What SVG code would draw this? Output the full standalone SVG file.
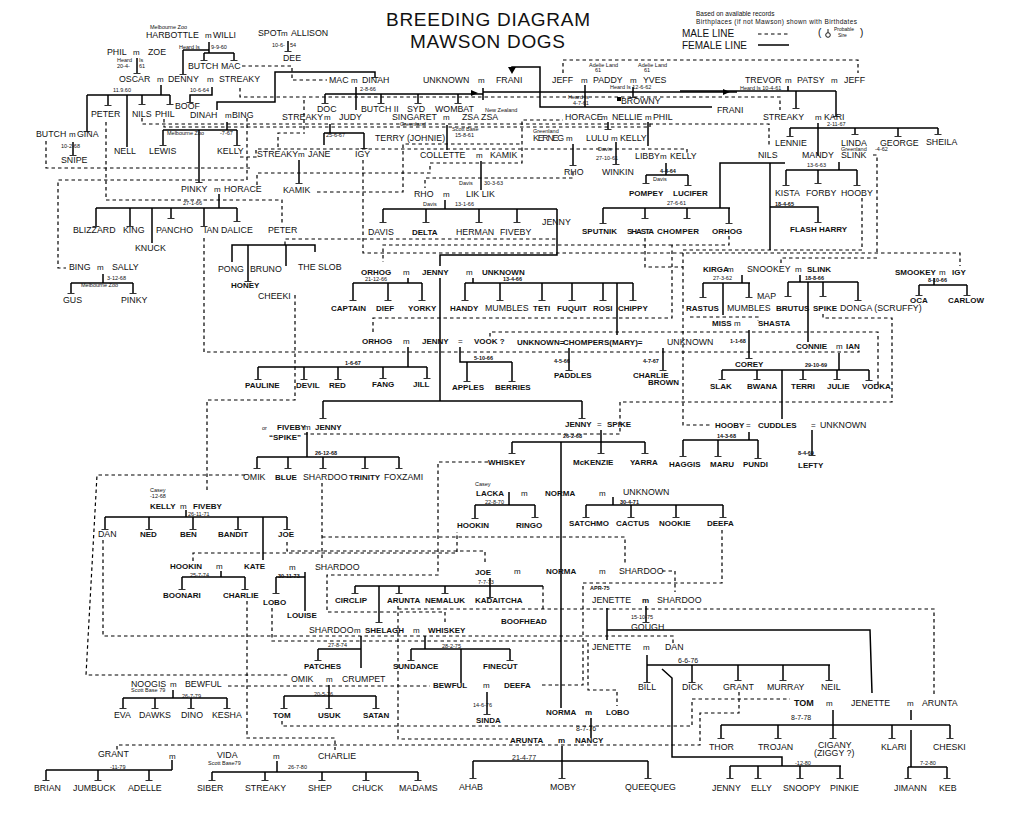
<svg xmlns="http://www.w3.org/2000/svg" width="1030" height="829" viewBox="0 0 1030 829">
<style>
text{font-family:"Liberation Sans",Arial,sans-serif;font-size:8.8px;fill:#111}
.h{font-weight:bold;font-size:8px}
.s{font-size:5.5px}
.hs{font-weight:bold;font-size:5.5px}
.m{font-size:8px}
.d7{font-size:7px}
.ti{font-size:19px}
.lg{font-size:10px}
.f{fill:none;stroke:#000;stroke-width:1.5}
.t{marker-end:url(#tee)}
.d{fill:none;stroke:#000;stroke-width:1.2;stroke-dasharray:3.5 3}
</style>
<defs>
<marker id="tee" markerWidth="8" markerHeight="8" refX="0" refY="4" orient="auto" markerUnits="userSpaceOnUse"><path d="M0,0.5V7.5" stroke="#000" stroke-width="1.6"/></marker>
</defs>
<rect width="1030" height="829" fill="#fff"/>

<g id="header">
<text class="ti" x="386" y="26" textLength="204">BREEDING DIAGRAM</text>
<text class="ti" x="410" y="47.5" textLength="155">MAWSON DOGS</text>
<text x="696" y="16" style="font-size:6.5px">Based on available records</text>
<text x="696" y="24" style="font-size:6.5px" textLength="161">Birthplaces (if not Mawson) shown with Birthdates</text>
<text class="lg" x="682" y="37">MALE LINE</text>
<text class="lg" x="682" y="49">FEMALE LINE</text>
<path class="d" d="M758,34H790"/>
<path class="f" d="M758,45H789"/>
<text class="lg" x="818" y="36">(</text>
<circle cx="828" cy="35" r="2.3" fill="none" stroke="#000" stroke-width="0.9"/>
<path d="M828,32.5V29" stroke="#000" stroke-width="0.9"/>
<text x="834" y="31" style="font-size:5px">Probable</text>
<text x="838" y="37" style="font-size:5px">Sire</text>
<text class="lg" x="860" y="36">)</text>
</g>

<g id="connectors">
<path class="f" d="M209,42V53M183,50H209M204,53H234"/>
<path class="f t" d="M183,50V74"/><path class="f t" d="M204,53V60"/><path class="f t" d="M234,53V60"/>
<path class="f t" d="M137,58V73"/>
<path class="f" d="M161,85V95M87,95H170M127,95V147"/>
<path class="f t" d="M87,95V131"/><path class="f t" d="M108,95V105"/><path class="f t" d="M142,95V104"/><path class="f t" d="M170,95V104"/>
<path class="f t" d="M212,87V95H190V102"/>
<path class="f t" d="M217,110V102H275V72H375V77"/>
<path class="f t" d="M288,41V51"/>
<path class="f" d="M356,87V110M325,94H483"/>
<path class="f t" d="M325,94V103"/><path class="f t" d="M381,94V103"/><path class="f t" d="M418,94V103"/><path class="f t" d="M458,94V103"/>
<path class="f" d="M483,88V100M483,92H737M512,72V67H540V107H712"/>
<polygon points="471,90 478,93 471,96"/><polygon points="723,89 730,92 723,95"/><polygon points="508,67 516,67 512,74"/>
<path class="f" d="M788,86V91M680,91H836"/>
<path class="f t" d="M796,91V108"/><path class="f t" d="M836,91V116"/>
<path class="f" d="M818,123V156M790,128H938"/>
<path class="f t" d="M790,128V136"/><path class="f t" d="M855,128V134"/><path class="f t" d="M898,128V136"/><path class="f t" d="M938,128V134"/>
<path class="f" d="M839,162V170M786,170H857"/>
<path class="f t" d="M786,170V185"/><path class="f t" d="M818,170V183"/><path class="f t" d="M857,170V185"/>
<path class="f" d="M720,208V163H785M770,163V250M603,208H730"/>
<path class="f t" d="M603,208V223"/><path class="f t" d="M645,208V218"/><path class="f t" d="M687,208V218"/><path class="f t" d="M729,208V223"/>
<path class="f t" d="M770,207H818V222"/>
<path class="f" d="M585,85V107"/>
<path class="f t" d="M633,87V97"/>
<path class="f t" d="M608,122V129"/><path class="f" d="M648,122V146"/>
<path class="f t" d="M616,142V164"/>
<path class="f t" d="M573,144V165"/>
<path class="f" d="M666,163V175M646,175H688"/>
<path class="f t" d="M646,175V183"/><path class="f t" d="M688,175V185"/>
<path class="f" d="M481,161V190M447,125V150"/>
<path class="f" d="M445,200V209M383,209H557M557,209V255H440V266"/>
<path class="f t" d="M383,209V222"/><path class="f t" d="M426,209V222"/><path class="f t" d="M479,209V222"/><path class="f t" d="M517,209V222"/>
<path class="f" d="M219,194V208M96,208H237M152,208V243"/>
<path class="f t" d="M96,208V226"/><path class="f t" d="M130,208V226"/><path class="f t" d="M171,208V218"/><path class="f t" d="M204,208V226"/><path class="f t" d="M237,208V221"/>
<path class="f" d="M103,274V283M71,283H133"/>
<path class="f t" d="M71,283V293"/><path class="f t" d="M133,283V293"/>
<path class="f t" d="M73,142V155"/>
<path class="f" d="M227,122V130M163,130H237"/>
<path class="f t" d="M163,130V145"/><path class="f t" d="M199,130V182"/><path class="f t" d="M237,130V145"/>
<path class="f" d="M330,124V133M324,133H364M324,133V145"/><path class="f t" d="M364,133V148"/>
<path class="f t" d="M299,160V183"/>
<path class="f" d="M232,262V245H315V252M286,245V266"/><path class="f t" d="M248,245V281"/>
<path class="f" d="M408,278V283M353,283H422M473,278V283M465,283H633M617,283V335"/>
<path class="f t" d="M353,283V300"/><path class="f t" d="M388,283V300"/><path class="f t" d="M422,283V300"/>
<path class="f t" d="M465,283V300"/><path class="f t" d="M500,283V300"/><path class="f t" d="M542,283V300"/><path class="f t" d="M572,283V300"/><path class="f t" d="M603,283V300"/><path class="f t" d="M633,283V300"/>
<path class="f" d="M440,278V401M323,401H582"/>
<path class="f t" d="M323,401V418"/><path class="f t" d="M582,401V418"/>
<path class="f" d="M408,347V367M258,367H427"/>
<path class="f t" d="M258,367V379"/><path class="f t" d="M304,367V379"/><path class="f t" d="M338,367V379"/><path class="f t" d="M383,367V378"/><path class="f t" d="M427,367V378"/>
<path class="f" d="M460,347V362H512"/><path class="f t" d="M467,362V381"/><path class="f t" d="M512,362V381"/>
<path class="f t" d="M569,348V370"/><path class="f t" d="M663,348V370"/>
<path class="f t" d="M749,330V358"/>
<path class="f" d="M839,353V370M722,370H869M782,370V419"/>
<path class="f t" d="M722,370V379"/><path class="f t" d="M757,370V379"/><path class="f t" d="M803,370V379"/><path class="f t" d="M837,370V379"/><path class="f t" d="M869,370V380"/>
<path class="f" d="M800,275V282M788,282H858M808,282V342"/>
<path class="f t" d="M788,282V296"/><path class="f t" d="M823,282V296"/><path class="f t" d="M858,282V300"/>
<path class="f" d="M742,275V283M703,283H750M723,283V315"/>
<path class="f t" d="M703,283V297"/><path class="f t" d="M749,283V297"/>
<path class="f" d="M934,278V285M919,285H967"/>
<path class="f t" d="M919,285V295"/><path class="f t" d="M967,285V295"/>
<path class="f" d="M601,430V442M512,442H645M561,442V708"/>
<path class="f t" d="M512,442V453"/><path class="f t" d="M601,442V453"/><path class="f t" d="M645,442V453"/>
<path class="f" d="M307,432V457M257,457H399"/>
<path class="f t" d="M257,457V468"/><path class="f t" d="M288,457V468"/><path class="f t" d="M323,457V468"/><path class="f t" d="M365,457V468"/><path class="f t" d="M399,457V468"/>
<path class="f" d="M749,432V440M683,440H758"/>
<path class="f t" d="M683,440V456"/><path class="f t" d="M718,440V456"/><path class="f t" d="M758,440V458"/><path class="f t" d="M812,430V455"/>
<path class="f" d="M509,492V505M475,505H535"/>
<path class="f t" d="M475,505V518"/><path class="f t" d="M535,505V517"/>
<path class="f" d="M613,497V505M586,505H723"/>
<path class="f t" d="M586,505V517"/><path class="f t" d="M631,505V517"/><path class="f t" d="M676,505V517"/><path class="f t" d="M723,505V517"/>
<path class="f" d="M186,510V517M105,517H287M263,517V560"/>
<path class="f t" d="M105,517V529"/><path class="f t" d="M149,517V529"/><path class="f t" d="M193,517V529"/><path class="f t" d="M238,517V529"/><path class="f t" d="M287,517V529"/>
<path class="f" d="M221,571V577M182,577H245"/>
<path class="f t" d="M182,577V589"/><path class="f t" d="M245,577V589"/>
<path class="f" d="M276,577H305M305,572V611"/><path class="f t" d="M276,577V593"/>
<path class="f" d="M490,578V586M355,586H543"/>
<path class="f t" d="M355,586V593"/><path class="f t" d="M379,586V622"/><path class="f t" d="M399,586V593"/><path class="f t" d="M445,586V593"/><path class="f t" d="M490,586V597"/>
<path class="f t" d="M646,606V622"/>
<path class="f" d="M607,608V640M607,630H870L872,693"/>
<path class="f" d="M647,665H830M662,669L672,678V757H782V766M730,766H841"/>
<path class="f t" d="M647,655V682"/><path class="f t" d="M692,665V682"/><path class="f t" d="M738,665V680"/><path class="f t" d="M783,665V680"/><path class="f t" d="M829,665V680"/>
<path class="f t" d="M730,766V778"/><path class="f t" d="M758,766V778"/><path class="f t" d="M800,766V778"/><path class="f t" d="M840,766V778"/>
<path class="f" d="M833,710V725M721,725H950"/>
<path class="f t" d="M721,725V738"/><path class="f t" d="M778,725V738"/><path class="f t" d="M833,725V738"/><path class="f t" d="M892,725V738"/><path class="f t" d="M950,725V738"/>
<path class="f" d="M911,710V720M911,730V767M908,767H947"/>
<path class="f t" d="M908,767V778"/><path class="f t" d="M947,767V778"/>
<path class="f" d="M591,718V738"/>
<path class="f" d="M562,746V761M473,761H648"/>
<path class="f t" d="M473,761V778"/><path class="f t" d="M562,761V778"/><path class="f t" d="M648,761V778"/>
<path class="f" d="M361,636V668M318,649H361"/><path class="f t" d="M318,649V660"/>
<path class="f" d="M425,636V649M411,649H510M461,649V683"/>
<path class="f t" d="M411,649V660"/><path class="f t" d="M510,649V660"/>
<path class="f" d="M329,685V696M284,696H376"/>
<path class="f t" d="M284,696V708"/><path class="f t" d="M329,696V708"/><path class="f t" d="M376,696V708"/>
<path class="f t" d="M487,692V714"/>
<path class="f" d="M173,690V698M123,698H227"/>
<path class="f t" d="M123,698V708"/><path class="f t" d="M155,698V708"/><path class="f t" d="M191,698V708"/><path class="f t" d="M227,698V708"/>
<path class="f" d="M172,760V770M46,770H172"/>
<path class="f t" d="M46,770V780"/><path class="f t" d="M98,770V780"/><path class="f t" d="M149,770V780"/>
<path class="f" d="M277,761V772M212,772H418"/>
<path class="f t" d="M212,772V780"/><path class="f t" d="M265,772V780"/><path class="f t" d="M322,772V780"/><path class="f t" d="M366,772V780"/><path class="f t" d="M418,772V780"/>
<path class="d" d="M242,66H292V80H327"/>
<path class="d" d="M240,88V97H780V110"/>
<path class="d" d="M142,118V124H769V145"/>
<path class="d" d="M164,119V127H650V122"/>
<path class="d" d="M247,118V180H58V268H66"/>
<path class="d" d="M46,141V168H250"/>
<path class="d" d="M106,122V200H282V225"/>
<path class="d" d="M204,238V352H859V348"/>
<path class="d" d="M240,157H256V149H687V153"/>
<path class="d" d="M257,185V173H430V163H522V120H563"/>
<path class="d" d="M317,192H403V144H520"/>
<path class="d" d="M573,172V178H425V188"/>
<path class="d" d="M363,160V253H960V266"/>
<path class="d" d="M873,155H877V253M877,258H781V266"/>
<path class="d" d="M729,236V245H672V318H373V335M672,245H383V262"/>
<path class="d" d="M862,198V250H683V425H712"/>
<path class="d" d="M563,73V60H858V73"/>
<path class="d" d="M295,295V400H207V492"/>
<path class="d" d="M245,475H97L86,675H289"/>
<path class="d" d="M103,540V636H673V645"/>
<path class="d" d="M287,542V551H485V563"/>
<path class="d" d="M322,483V560M322,537H625V565"/>
<path class="d" d="M488,462H438V575H327V612H445V623"/>
<path class="d" d="M878,385V332H490V337"/>
<path class="d" d="M823,314V318H892V402H620V434H302"/>
<path class="d" d="M645,238V267H683M690,317H758V321"/>
<path class="d" d="M193,561V553H457V532"/>
<path class="d" d="M272,608V641H588V690H617V706"/>
<path class="d" d="M398,606V739H508M398,609H934V696"/>
<path class="d" d="M739,692V713H700V745H117V750"/>
<path class="d" d="M282,721V726H692V699H790"/>
<path class="d" d="M247,601V738H335V750"/>
<path class="d" d="M228,686H430"/>
<path class="d" d="M722,530V583H583V685H540"/>
<path class="d" d="M662,571H675V592"/>
<path class="d" d="M543,586V612"/>
<path class="d" d="M285,245V239H557"/>
<path class="d" d="M304,100V131M278,147V133H305"/>
</g>

<g id="labels">
<text class="s" x="150" y="29">Melbourne Zoo</text>
<text class="s" x="272" y="47">10-6-</text><text class="s" x="290" y="47">54</text>
<text class="s" x="179" y="49">Heard Is</text><text class="s" x="211" y="49">9-9-60</text>
<text class="s" x="117" y="62">Heard</text><text class="s" x="139" y="62">Is</text>
<text class="s" x="117" y="68">20-4-</text><text class="s" x="139" y="68">61</text>
<text class="s" x="589" y="67">Adelie Land</text><text class="s" x="595" y="72">61</text>
<text class="s" x="638" y="67">Adelie Land</text><text class="s" x="644" y="72">61</text>
<text class="s" x="113" y="92">11.9.60</text><text class="s" x="190" y="92">10-6-64</text><text class="s" x="360" y="91">2-8-66</text>
<text class="s" x="610" y="89">Heard Is 12-6-62</text><text class="s" x="740" y="90">Heard Is 10-4-61</text>
<text class="s" x="568" y="99">Heard Is</text><text class="s" x="573" y="105">4-7-61</text>
<text class="s" x="485" y="112">New Zealand</text>
<text class="s" x="400" y="126">Greenland</text>
<text class="s" x="827" y="126">2-11-67</text>
<text class="s" x="452" y="131">Scott Base</text><text class="s" x="455" y="137">15-8-61</text>
<text class="s" x="326" y="137">25-6-67</text>
<text class="s" x="167" y="135">Melbourne Zoo</text><text class="s" x="220" y="135">-7-67</text>
<text class="s" x="533" y="133">Greenland</text>
<text class="s" x="841" y="151">Greenland</text><text class="s" x="875" y="151">-4-62</text>
<text class="s" x="61" y="148">10-2-68</text>
<text class="s" x="598" y="151">Davis</text><text class="s" x="596" y="160">27-10-61</text>
<text class="s" x="807" y="167">13-6-63</text>
<text class="hs" x="660" y="173">4-4-64</text><text class="s" x="653" y="181">Davis</text>
<text class="s" x="459" y="185">Davis</text><text class="s" x="484" y="185">30-3-63</text>
<text class="s" x="183" y="205">27-1-66</text>
<text class="s" x="423" y="206">Davis</text><text class="s" x="455" y="206">13-1-66</text>
<text class="s" x="667" y="205">27-6-61</text>
<text class="hs" x="775" y="206">18-4-65</text>
<text class="s" x="107" y="280">3-12-68</text><text class="s" x="81" y="287">Melbourne Zoo</text>
<text class="s" x="365" y="281">21-12-66</text><text class="hs" x="503" y="281">13-4-66</text>
<text class="s" x="713" y="280">27-3-62</text><text class="hs" x="805" y="280">18-8-66</text><text class="hs" x="928" y="282">8-10-66</text>
<text class="hs" x="474" y="360">5-10-66</text><text class="hs" x="554" y="363">4-5-66</text><text class="hs" x="643" y="363">4-7-67</text>
<text class="hs" x="730" y="343">1-1-68</text><text class="hs" x="345" y="365">1-6-67</text><text class="hs" x="805" y="367">29-10-69</text>
<text class="hs" x="563" y="438">26-2-68</text><text class="hs" x="717" y="438">14-3-68</text>
<text class="hs" x="315" y="455">26-12-68</text><text class="hs" x="798" y="455">8-4-69</text>
<text class="s" x="262" y="430">or</text>
<text class="s" x="475" y="486">Casey</text><text class="s" x="150" y="492">Casey</text><text class="s" x="150" y="498">-12-68</text>
<text class="s" x="485" y="504">22-8-70</text><text class="hs" x="620" y="504">30-4-71</text>
<text class="s" x="188" y="516">26-11-71</text>
<text class="s" x="190" y="577">25-7-74</text><text class="hs" x="278" y="578">30-11-73</text><text class="s" x="478" y="584">7-7-73</text>
<text class="hs" x="590" y="590">APR-75</text>
<text class="s" x="631" y="619">15-10-75</text>
<text class="s" x="328" y="647">27-8-74</text><text class="s" x="442" y="648">28-2-75</text>
<text class="d7" x="678" y="663">6-6-76</text>
<text class="s" x="131" y="692">Scott Base 79</text>
<text class="s" x="314" y="696">20-5-76</text><text class="s" x="182" y="698">26-7-79</text>
<text class="s" x="473" y="707">14-6-76</text>
<text class="d7" x="791" y="720">8-7-78</text>
<text class="d7" x="576" y="731">8-7-76</text>
<text class="d7" x="512" y="760">21-4-77</text>
<text class="s" x="208" y="765">Scott Base79</text>
<text class="s" x="795" y="765">-12-80</text><text class="s" x="920" y="765">7-2-80</text>
<text class="s" x="110" y="769">-11-79</text><text class="s" x="288" y="769">26-7-80</text>
</g>

<g id="marks">
<text class="m" x="205" y="38">m</text><text class="m" x="281" y="36">m</text><text class="m" x="133" y="55">m</text>
<text class="m" x="157" y="82">m</text><text class="m" x="207" y="82">m</text><text class="m" x="351" y="83">m</text>
<text class="m" x="478" y="83">m</text><text class="m" x="581" y="83">m</text><text class="m" x="630" y="83">m</text>
<text class="m" x="785" y="83">m</text><text class="m" x="831" y="83">m</text>
<text class="m" x="225" y="118">m</text><text class="m" x="324" y="120">m</text><text class="m" x="443" y="120">m</text>
<text class="m" x="601" y="120">m</text><text class="m" x="645" y="120">m</text><text class="m" x="815" y="120">m</text>
<text class="m" x="69" y="137">m</text><text class="m" x="566" y="141">m</text><text class="m" x="611" y="141">m</text>
<text class="m" x="298" y="157">m</text><text class="m" x="476" y="158">m</text><text class="m" x="660" y="159">m</text>
<text class="m" x="214" y="192">m</text><text class="m" x="443" y="197">m</text>
<text class="m" x="97" y="270">m</text><text class="m" x="403" y="275">m</text><text class="m" x="466" y="275">m</text>
<text class="m" x="727" y="272">m</text><text class="m" x="795" y="272">m</text><text class="m" x="939" y="275">m</text>
<text class="m" x="734" y="326">m</text><text class="m" x="403" y="344">m</text><text class="m" x="458" y="344">=</text>
<text class="m" x="836" y="349">m</text>
<text class="m" x="597" y="427">=</text><text class="m" x="746" y="428">=</text><text class="m" x="811" y="428">=</text>
<text class="m" x="304" y="430">m</text>
<text class="m" x="521" y="496">m</text><text class="m" x="599" y="496">m</text><text class="m" x="180" y="509">m</text>
<text class="m" x="216" y="569">m</text><text class="m" x="289" y="570">m</text><text class="m" x="514" y="574">m</text><text class="m" x="599" y="574">m</text>
<text class="m" x="642" y="603" font-weight="bold">m</text>
<text class="m" x="354" y="633">m</text><text class="m" x="413" y="633">m</text><text class="m" x="643" y="650">m</text>
<text class="m" x="326" y="682">m</text><text class="m" x="170" y="687">m</text><text class="m" x="483" y="688">m</text>
<text class="m" x="826" y="706">m</text><text class="m" x="907" y="706">m</text>
<text class="m" x="585" y="715" font-weight="bold">m</text><text class="m" x="558" y="743" font-weight="bold">m</text>
<text class="m" x="169" y="759">m</text><text class="m" x="273" y="759">m</text>
</g>

<g id="harbottle"><text x="146" y="38">HARBOTTLE</text></g>
<g id="willi"><text x="213" y="38">WILLI</text></g>
<g id="spot"><text x="258" y="36">SPOT</text></g>
<g id="allison"><text x="291" y="36">ALLISON</text></g>
<g id="dee"><text x="283" y="61">DEE</text></g>
<g id="phil1"><text x="107" y="55">PHIL</text></g>
<g id="zoe"><text x="148" y="55">ZOE</text></g>
<g id="butch1"><text x="188" y="69">BUTCH</text></g>
<g id="mac1"><text x="221" y="69">MAC</text></g>
<g id="oscar"><text x="119" y="82">OSCAR</text></g>
<g id="denny"><text x="168" y="82">DENNY</text></g>
<g id="streaky1"><text x="219" y="82">STREAKY</text></g>
<g id="mac2"><text x="329" y="83">MAC</text></g>
<g id="dinah1"><text x="362" y="83">DINAH</text></g>
<g id="unknown1"><text x="423" y="83">UNKNOWN</text></g>
<g id="frani1"><text x="496" y="83">FRANI</text></g>
<g id="jeff1"><text x="552" y="83">JEFF</text></g>
<g id="paddy"><text x="593" y="83">PADDY</text></g>
<g id="yves"><text x="643" y="83">YVES</text></g>
<g id="trevor"><text x="745" y="83">TREVOR</text></g>
<g id="patsy"><text x="797" y="83">PATSY</text></g>
<g id="jeff2"><text x="844" y="83">JEFF</text></g>
<g id="browny"><rect x="617" y="97" width="4" height="4"/><text x="621" y="104">BROWNY</text></g>
<g id="frani2"><text x="717" y="113">FRANI</text></g>
<g id="boof"><text x="175" y="109">BOOF</text></g>
<g id="peter1"><text x="91" y="117">PETER</text></g>
<g id="nils1"><text x="132" y="117">NILS</text></g>
<g id="phil2"><text x="155" y="117">PHIL</text></g>
<g id="dinah2"><text x="190" y="118">DINAH</text></g>
<g id="bing1"><text x="232" y="118">BING</text></g>
<g id="doc"><text x="317" y="112">DOC</text></g>
<g id="butch2"><text x="361" y="112">BUTCH II</text></g>
<g id="syd"><text x="407" y="112">SYD</text></g>
<g id="wombat"><text x="435" y="112">WOMBAT</text></g>
<g id="streaky2"><text x="282" y="120">STREAKY</text></g>
<g id="judy"><text x="339" y="120">JUDY</text></g>
<g id="singaret"><text x="392" y="120">SINGARET</text></g>
<g id="zsazsa"><text x="462" y="120">ZSA ZSA</text></g>
<g id="horace1"><text x="565" y="120">HORACE</text></g>
<g id="nellie"><text x="612" y="120">NELLIE</text></g>
<g id="phil3"><text x="653" y="120">PHIL</text></g>
<g id="streaky3"><text x="763" y="120">STREAKY</text></g>
<g id="kari"><text x="824" y="120">KARI</text></g>
<g id="butch3"><text x="36" y="137">BUTCH</text></g>
<g id="gina"><text x="77" y="137">GINA</text></g>
<g id="terry"><text x="375" y="141">TERRY (JOHNIE)</text></g>
<g id="kerneg"><text x="533" y="141" textLength="31">KERNEG</text></g>
<g id="lulu"><text x="586" y="141">LULU</text></g>
<g id="kelly1"><text x="620" y="141">KELLY</text></g>
<g id="lennie"><text x="775" y="146">LENNIE</text></g>
<g id="linda"><text x="841" y="146">LINDA</text></g>
<g id="george"><text x="880" y="146">GEORGE</text></g>
<g id="sheila"><text x="926" y="145">SHEILA</text></g>
<g id="nell"><text x="114" y="154">NELL</text></g>
<g id="lewis"><text x="149" y="154">LEWIS</text></g>
<g id="kelly2"><text x="217" y="154">KELLY</text></g>
<g id="streaky4"><text x="257" y="157">STREAKY</text></g>
<g id="jane"><text x="308" y="157">JANE</text></g>
<g id="igy1"><text x="355" y="157">IGY</text></g>
<g id="collette"><text x="420" y="158">COLLETTE</text></g>
<g id="kamik1"><text x="490" y="158">KAMIK</text></g>
<g id="libby"><text x="635" y="159">LIBBY</text></g>
<g id="kelly3"><text x="670" y="159">KELLY</text></g>
<g id="nils2"><text x="758" y="158">NILS</text></g>
<g id="mandy"><text x="802" y="158">MANDY</text></g>
<g id="slink1"><text x="841" y="158">SLINK</text></g>
<g id="snipe"><text x="61" y="163">SNIPE</text></g>
<g id="rho1"><text x="564" y="175">RHO</text></g>
<g id="winkin"><text x="602" y="175">WINKIN</text></g>
<g id="pinky1"><text x="181" y="192">PINKY</text></g>
<g id="horace2"><text x="224" y="192">HORACE</text></g>
<g id="kamik2"><text x="283" y="193">KAMIK</text></g>
<g id="rho2"><text x="414" y="197">RHO</text></g>
<g id="liklik"><text x="466" y="197">LIK LIK</text></g>
<g id="pompey"><text class="h" x="629" y="196">POMPEY</text></g>
<g id="lucifer"><text class="h" x="673" y="196">LUCIFER</text></g>
<g id="kista"><text x="775" y="196">KISTA</text></g>
<g id="forby"><text x="806" y="196">FORBY</text></g>
<g id="hooby1"><text x="841" y="196">HOOBY</text></g>
<g id="jenny1"><text x="542" y="225">JENNY</text></g>
<g id="blizzard"><text x="73" y="233">BLIZZARD</text></g>
<g id="king"><text x="123" y="233">KING</text></g>
<g id="pancho"><text x="156" y="233">PANCHO</text></g>
<g id="ian1"><text x="204" y="233">IAN</text></g>
<g id="dalice"><text x="221" y="233">DALICE</text></g>
<g id="peter2"><text x="268" y="233">PETER</text></g>
<g id="davis"><text x="368" y="235">DAVIS</text></g>
<g id="delta"><text class="h" x="412" y="235">DELTA</text></g>
<g id="herman"><text x="456" y="235">HERMAN</text></g>
<g id="fiveby1"><text x="500" y="235">FIVEBY</text></g>
<g id="sputnik"><text class="h" x="582" y="234">SPUTNIK</text></g>
<g id="shasta1"><text class="h" x="627" y="234" textLength="27">SHASTA</text></g>
<g id="chomper"><text class="h" x="657" y="234" textLength="42">CHOMPER</text></g>
<g id="orhog1"><text class="h" x="712" y="234">ORHOG</text></g>
<g id="flashharry"><text class="h" x="790" y="232">FLASH HARRY</text></g>
<g id="knuck"><text x="135" y="251">KNUCK</text></g>
<g id="bing2"><text x="69" y="270">BING</text></g>
<g id="sally"><text x="112" y="270">SALLY</text></g>
<g id="pong"><text x="218" y="272">PONG</text></g>
<g id="bruno"><text x="250" y="272">BRUNO</text></g>
<g id="theslob"><text x="298" y="270">THE SLOB</text></g>
<g id="orhog2"><text class="h" x="361" y="275">ORHOG</text></g>
<g id="jenny2"><text class="h" x="422" y="275">JENNY</text></g>
<g id="unknown2"><text class="h" x="482" y="275">UNKNOWN</text></g>
<g id="kirga"><text class="h" x="703" y="272">KIRGA</text></g>
<g id="snookey"><text x="747" y="272">SNOOKEY</text></g>
<g id="slink2"><text class="h" x="807" y="272">SLINK</text></g>
<g id="smookey"><text class="h" x="895" y="275">SMOOKEY</text></g>
<g id="igy2"><text class="h" x="952" y="275">IGY</text></g>
<g id="honey"><text class="h" x="231" y="288">HONEY</text></g>
<g id="gus"><text x="63" y="303">GUS</text></g>
<g id="pinky2"><text x="121" y="303">PINKY</text></g>
<g id="cheeki"><text x="258" y="299">CHEEKI</text></g>
<g id="map"><text x="757" y="299">MAP</text></g>
<g id="oca"><text class="h" x="910" y="303">OCA</text></g>
<g id="carlow"><text class="h" x="948" y="303">CARLOW</text></g>
<g id="captain"><text class="h" x="331" y="311">CAPTAIN</text></g>
<g id="dief"><text class="h" x="376" y="311">DIEF</text></g>
<g id="yorky"><text class="h" x="408" y="311">YORKY</text></g>
<g id="handy"><text class="h" x="450" y="311">HANDY</text></g>
<g id="mumbles1"><text x="485" y="311">MUMBLES</text></g>
<g id="teti"><text class="h" x="533" y="311">TETI</text></g>
<g id="fuquit"><text class="h" x="557" y="311">FUQUIT</text></g>
<g id="rosi"><text class="h" x="593" y="311">ROSI</text></g>
<g id="chippy"><text class="h" x="618" y="311">CHIPPY</text></g>
<g id="rastus"><text class="h" x="686" y="311">RASTUS</text></g>
<g id="mumbles2"><text x="727" y="311">MUMBLES</text></g>
<g id="brutus"><text class="h" x="776" y="311">BRUTUS</text></g>
<g id="spike1"><text class="h" x="813" y="311">SPIKE</text></g>
<g id="donga"><text x="840" y="311">DONGA (SCRUFFY)</text></g>
<g id="miss"><text class="h" x="712" y="326">MISS</text></g>
<g id="shasta2"><text class="h" x="758" y="326">SHASTA</text></g>
<g id="orhog3"><text class="h" x="362" y="344">ORHOG</text></g>
<g id="jenny3"><text class="h" x="422" y="344">JENNY</text></g>
<g id="vook"><text class="h" x="474" y="344">VOOK ?</text></g>
<g id="unknown3"><text class="h" x="517" y="345">UNKNOWN=</text></g>
<g id="chompers"><text class="h" x="563" y="345">CHOMPERS(MARY)=</text></g>
<g id="unknown4"><text x="667" y="345">UNKNOWN</text></g>
<g id="connie"><text class="h" x="796" y="349">CONNIE</text></g>
<g id="ian2"><text class="h" x="846" y="349">IAN</text></g>
<g id="corey"><text class="h" x="735" y="367">COREY</text></g>
<g id="paddles"><text class="h" x="554" y="378">PADDLES</text></g>
<g id="charliebrown"><text class="h" x="633" y="378">CHARLIE</text><text class="h" x="648" y="385">BROWN</text></g>
<g id="pauline"><text class="h" x="245" y="388">PAULINE</text></g>
<g id="devil"><text class="h" x="296" y="388">DEVIL</text></g>
<g id="red"><text class="h" x="329" y="388">RED</text></g>
<g id="fang"><text class="h" x="372" y="387">FANG</text></g>
<g id="jill"><text class="h" x="413" y="387">JILL</text></g>
<g id="apples"><text class="h" x="452" y="390">APPLES</text></g>
<g id="berries"><text class="h" x="495" y="390">BERRIES</text></g>
<g id="slak"><text class="h" x="710" y="389">SLAK</text></g>
<g id="bwana"><text class="h" x="747" y="389">BWANA</text></g>
<g id="terri"><text class="h" x="791" y="389">TERRI</text></g>
<g id="julie"><text class="h" x="827" y="389">JULIE</text></g>
<g id="vodka"><text class="h" x="862" y="389">VODKA</text></g>
<g id="jenny4"><text class="h" x="565" y="427">JENNY</text></g>
<g id="spike2"><text class="h" x="607" y="427">SPIKE</text></g>
<g id="hooby2"><text class="h" x="715" y="428">HOOBY</text></g>
<g id="cuddles"><text class="h" x="758" y="428">CUDDLES</text></g>
<g id="unknown5"><text x="820" y="428">UNKNOWN</text></g>
<g id="fiveby2"><text class="h" x="277" y="430">FIVEBY</text></g>
<g id="jenny5"><text class="h" x="315" y="430">JENNY</text></g>
<g id="spike3"><text class="h" x="269" y="440">“SPIKE”</text></g>
<g id="whiskey1"><text class="h" x="488" y="465">WHISKEY</text></g>
<g id="mckenzie"><text class="h" x="573" y="465">McKENZIE</text></g>
<g id="yarra"><text class="h" x="630" y="465">YARRA</text></g>
<g id="haggis"><text class="h" x="669" y="467">HAGGIS</text></g>
<g id="maru"><text class="h" x="710" y="467">MARU</text></g>
<g id="pundi"><text class="h" x="743" y="467">PUNDI</text></g>
<g id="lefty"><text class="h" x="798" y="468">LEFTY</text></g>
<g id="omik1"><text x="243" y="480">OMIK</text></g>
<g id="blue"><text class="h" x="275" y="480">BLUE</text></g>
<g id="shardoo1"><text x="303" y="480">SHARDOO</text></g>
<g id="trinity"><text class="h" x="349" y="480">TRINITY</text></g>
<g id="foxzami"><text x="384" y="480">FOXZAMI</text></g>
<g id="lacka"><text class="h" x="476" y="496">LACKA</text></g>
<g id="norma1"><text class="h" x="545" y="496">NORMA</text></g>
<g id="unknown6"><text x="623" y="495">UNKNOWN</text></g>
<g id="kelly4"><text class="h" x="150" y="509">KELLY</text></g>
<g id="fiveby3"><text class="h" x="193" y="509">FIVEBY</text></g>
<g id="hookin1"><text class="h" x="457" y="528">HOOKIN</text></g>
<g id="ringo"><text class="h" x="516" y="528">RINGO</text></g>
<g id="satchmo"><text class="h" x="569" y="526">SATCHMO</text></g>
<g id="cactus"><text class="h" x="616" y="526">CACTUS</text></g>
<g id="nookie"><text class="h" x="659" y="526">NOOKIE</text></g>
<g id="deefa1"><text class="h" x="707" y="526">DEEFA</text></g>
<g id="dan1"><text x="98" y="537">DAN</text></g>
<g id="ned"><text class="h" x="140" y="537">NED</text></g>
<g id="ben"><text class="h" x="180" y="537">BEN</text></g>
<g id="bandit"><text class="h" x="218" y="537">BANDIT</text></g>
<g id="joe1"><text class="h" x="278" y="537">JOE</text></g>
<g id="hookin2"><text class="h" x="170" y="569">HOOKIN</text></g>
<g id="kate"><text class="h" x="244" y="569">KATE</text></g>
<g id="shardoo2"><text x="315" y="570">SHARDOO</text></g>
<g id="joe2"><text class="h" x="475" y="575">JOE</text></g>
<g id="norma2"><text class="h" x="546" y="574">NORMA</text></g>
<g id="shardoo3"><text x="619" y="574">SHARDOO</text></g>
<g id="boonari"><text class="h" x="163" y="598">BOONARI</text></g>
<g id="charlie1"><text class="h" x="223" y="598">CHARLIE</text></g>
<g id="circlip"><text class="h" x="335" y="603">CIRCLIP</text></g>
<g id="arunta1"><text class="h" x="387" y="603">ARUNTA</text></g>
<g id="nemaluk"><text class="h" x="425" y="603">NEMALUK</text></g>
<g id="kadaitcha"><text class="h" x="475" y="603">KADAITCHA</text></g>
<g id="jenette1"><text x="592" y="603">JENETTE</text></g>
<g id="shardoo4"><text x="657" y="603">SHARDOO</text></g>
<g id="lobo1"><text class="h" x="263" y="605">LOBO</text></g>
<g id="louise"><text class="h" x="287" y="618">LOUISE</text></g>
<g id="boofhead"><text class="h" x="501" y="624">BOOFHEAD</text></g>
<g id="gough"><text x="631" y="630">GOUGH</text></g>
<g id="shardoo5"><text x="309" y="633">SHARDOO</text></g>
<g id="shelagh"><text class="h" x="365" y="633">SHELAGH</text></g>
<g id="whiskey2"><text class="h" x="428" y="633">WHISKEY</text></g>
<g id="jenette2"><text x="592" y="650">JENETTE</text></g>
<g id="dan2"><text x="665" y="650">DAN</text></g>
<g id="patches"><text class="h" x="304" y="669">PATCHES</text></g>
<g id="sundance"><text class="h" x="393" y="669">SUNDANCE</text></g>
<g id="finecut"><text class="h" x="483" y="669">FINECUT</text></g>
<g id="omik2"><text x="291" y="682">OMIK</text></g>
<g id="crumpet"><text x="342" y="682">CRUMPET</text></g>
<g id="noogis"><text x="131" y="687">NOOGIS</text></g>
<g id="bewful1"><text x="185" y="687">BEWFUL</text></g>
<g id="bewful2"><text class="h" x="433" y="688">BEWFUL</text></g>
<g id="deefa2"><text class="h" x="504" y="688">DEEFA</text></g>
<g id="bill"><text x="638" y="690">BILL</text></g>
<g id="dick"><text x="682" y="690">DICK</text></g>
<g id="grant1"><text x="723" y="690">GRANT</text></g>
<g id="murray"><text x="767" y="690">MURRAY</text></g>
<g id="neil"><text x="821" y="690">NEIL</text></g>
<g id="tom1"><text class="h" x="794" y="706" style="font-size:9px">TOM</text></g>
<g id="jenette3"><text x="851" y="706">JENETTE</text></g>
<g id="arunta2"><text x="922" y="706">ARUNTA</text></g>
<g id="norma3"><text class="h" x="546" y="715">NORMA</text></g>
<g id="lobo2"><text class="h" x="606" y="715">LOBO</text></g>
<g id="eva"><text x="114" y="718">EVA</text></g>
<g id="dawks"><text x="139" y="718">DAWKS</text></g>
<g id="dino"><text x="181" y="718">DINO</text></g>
<g id="kesha"><text x="212" y="718">KESHA</text></g>
<g id="tom2"><text class="h" x="273" y="718">TOM</text></g>
<g id="usuk"><text class="h" x="318" y="718">USUK</text></g>
<g id="satan"><text class="h" x="363" y="718">SATAN</text></g>
<g id="sinda"><text class="h" x="476" y="723">SINDA</text></g>
<g id="arunta3"><text class="h" x="510" y="743">ARUNTA</text></g>
<g id="nancy"><text class="h" x="575" y="743">NANCY</text></g>
<g id="thor"><text x="709" y="750">THOR</text></g>
<g id="trojan"><text x="758" y="750">TROJAN</text></g>
<g id="cigany"><text x="818" y="748">CIGANY</text><text x="814" y="756">(ZIGGY ?)</text></g>
<g id="klari"><text x="881" y="750">KLARI</text></g>
<g id="cheski"><text x="933" y="750">CHESKI</text></g>
<g id="grant2"><text x="98" y="757">GRANT</text></g>
<g id="vida"><text x="217" y="758">VIDA</text></g>
<g id="charlie2"><text x="318" y="759">CHARLIE</text></g>
<g id="brian"><text x="34" y="791">BRIAN</text></g>
<g id="jumbuck"><text x="73" y="791">JUMBUCK</text></g>
<g id="adelle"><text x="128" y="791">ADELLE</text></g>
<g id="siber"><text x="197" y="791">SIBER</text></g>
<g id="streaky5"><text x="245" y="791">STREAKY</text></g>
<g id="shep"><text x="308" y="791">SHEP</text></g>
<g id="chuck"><text x="352" y="791">CHUCK</text></g>
<g id="madams"><text x="399" y="791">MADAMS</text></g>
<g id="ahab"><text x="459" y="790">AHAB</text></g>
<g id="moby"><text x="550" y="790">MOBY</text></g>
<g id="queequeg"><text x="625" y="790">QUEEQUEG</text></g>
<g id="jenny6"><text x="712" y="791">JENNY</text></g>
<g id="elly"><text x="751" y="791">ELLY</text></g>
<g id="snoopy"><text x="783" y="791">SNOOPY</text></g>
<g id="pinkie"><text x="830" y="791">PINKIE</text></g>
<g id="jimann"><text x="894" y="791">JIMANN</text></g>
<g id="keb"><text x="939" y="791">KEB</text></g>
</svg>
